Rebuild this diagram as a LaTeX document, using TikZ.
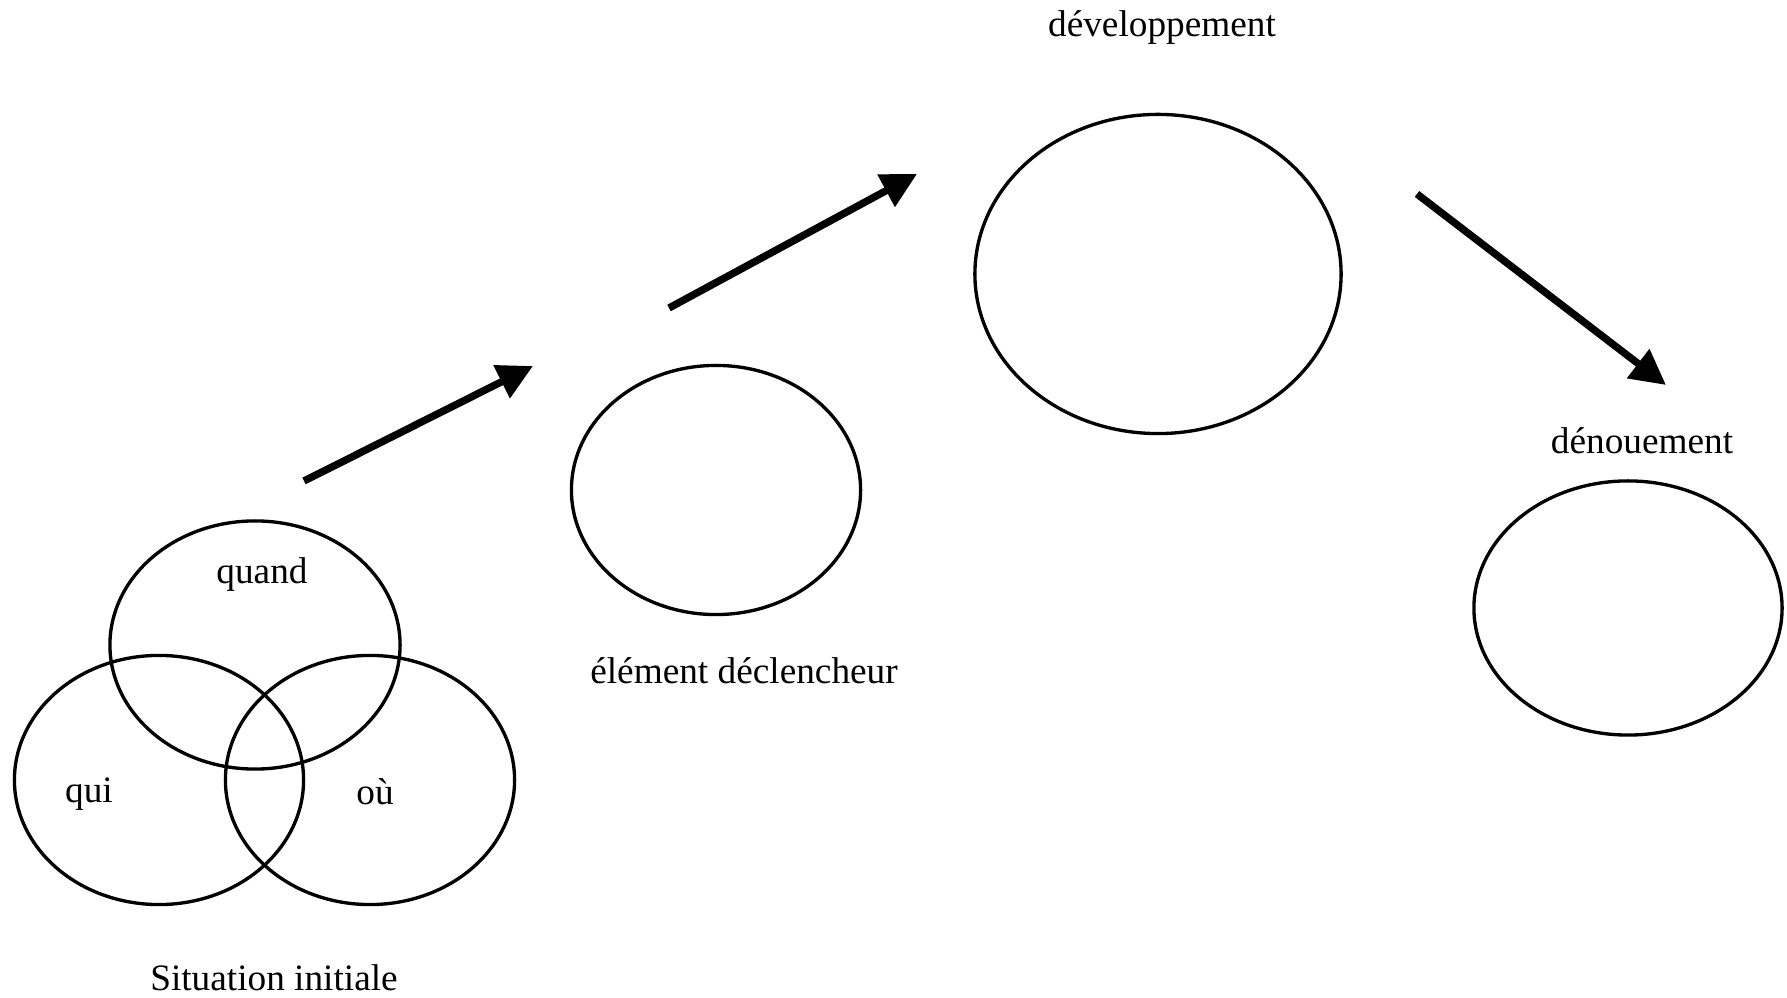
\documentclass[tikz,border=0pt]{standalone}
\usepackage{fontspec}
\setmainfont{Liberation Serif}
\usetikzlibrary{arrows.meta,shapes.geometric}
\tikzset{
  ell/.style={draw, ellipse, line width=0.95pt, inner sep=0pt},
  lbl/.style={font=\fontsize{10.6}{12.7}\selectfont, inner sep=0pt},
  bigarrow/.style={line width=2.1pt, -{Triangle[length=10pt,width=10pt]}}
}
\begin{document}
\begin{tikzpicture}[x=0.01cm, y=-0.01cm]
\useasboundingbox (0,0) rectangle (1787,998);
% ellipses
\node[ell, minimum width=2.90cm, minimum height=2.48cm] (quandE) at (255,645) {};
\node[ell, minimum width=2.89cm, minimum height=2.49cm] (quiE) at (159,780) {};
\node[ell, minimum width=2.89cm, minimum height=2.49cm] (ouE) at (370,780) {};
\node[ell, minimum width=2.89cm, minimum height=2.49cm] (elem) at (716,490) {};
\node[ell, minimum width=3.66cm, minimum height=3.19cm] (dev) at (1158,274) {};
\node[ell, minimum width=3.08cm, minimum height=2.54cm] (deno) at (1628,608) {};
% labels
\node[lbl] (tdev) at (1162,28) {développement};
\node[lbl] (telem) at (744,671) {élément déclencheur};
\node[lbl] (tdeno) at (1642,441) {dénouement};
\node[lbl] (tquand) at (262,575) {quand};
\node[lbl] (tqui) at (89,794) {qui};
\node[lbl] (tou) at (375,792) {où};
\node[lbl] (tsit) at (274,978) {Situation initiale};
% arrows
\coordinate (a1s) at (304,481);
\coordinate (a1e) at (533,366);
\coordinate (a2s) at (669,308);
\coordinate (a2e) at (917,174);
\coordinate (a3s) at (1417,194);
\coordinate (a3e) at (1666,385);
\draw[bigarrow] (a1s) -- (a1e);
\draw[bigarrow] (a2s) -- (a2e);
\draw[bigarrow] (a3s) -- (a3e);
\end{tikzpicture}
\end{document}
